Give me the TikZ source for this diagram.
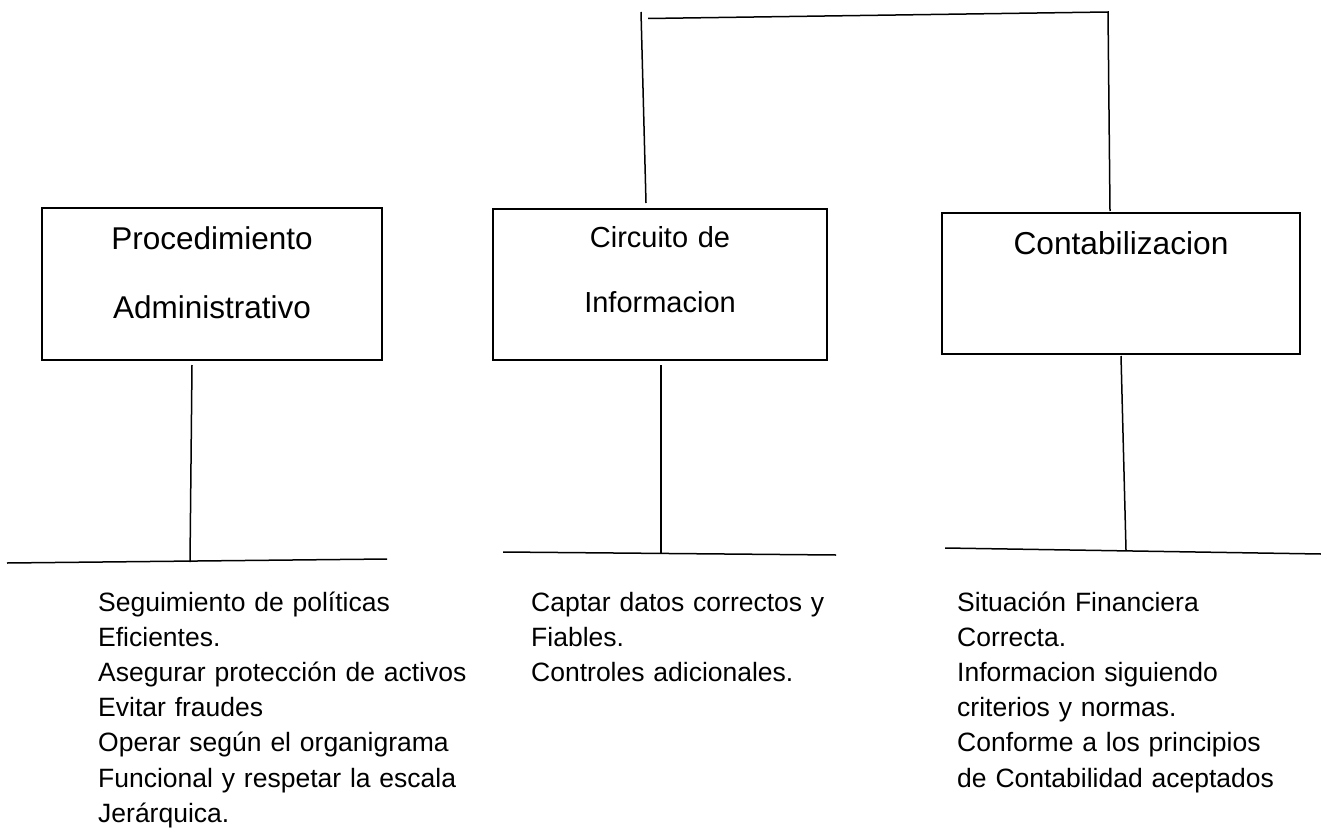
\documentclass[tikz,border=0pt]{standalone}
\usepackage{fontspec}
\setmainfont{Liberation Sans}
\begin{document}
\begin{tikzpicture}[x=1pt,y=-1pt,
  box/.style={draw, line width=1.9pt, rectangle, inner sep=0pt},
  conn/.style={line width=1.5pt},
  lbl/.style={inner sep=0pt, anchor=base, align=center, text width=330pt},
  body/.style={inner sep=0pt, anchor=base west, align=left, text width=400pt, font=\fontsize{26.5}{35.2}\selectfont}]
\useasboundingbox[fill=white] (0,0) rectangle (1321,829);

% boxes
\node[box, minimum width=340pt, minimum height=152pt] (b1) at (212,284) {};
\node[box, minimum width=334pt, minimum height=151pt] (b2) at (660,284.5) {};
\node[box, minimum width=358pt, minimum height=141pt] (b3) at (1121,283.5) {};

% box labels
\node[lbl, font=\fontsize{31.5}{69}\selectfont] (t1) at (212,249) {Procedimiento\\Administrativo};
\node[lbl, font=\fontsize{29}{65}\selectfont] (t2) at (660,247) {Circuito de\\Informacion};
\node[lbl, font=\fontsize{31.7}{40}\selectfont] (t3) at (1121,254) {Contabilizacion};

% top connector
\coordinate (tl1) at (641,12);
\coordinate (tl2) at (646,203);
\coordinate (th1) at (648,18.5);
\coordinate (th2) at (1108,12);
\coordinate (tr) at (1110,211);
\draw[conn] (tl1) -- (tl2);
\draw[conn] (th1) -- (th2) -- (tr);

% stems and bars
\coordinate (v1a) at (192,365);
\coordinate (v1b) at (190,562);
\coordinate (h1l) at (7,563);
\coordinate (h1r) at (387,559);
\draw[conn] (v1a) -- (v1b);
\draw[conn] (h1l) -- (h1r);

\coordinate (v2a) at (661,365);
\coordinate (v2b) at (661,553);
\coordinate (h2l) at (503,552);
\coordinate (h2r) at (836,555);
\draw[conn] (v2a) -- (v2b);
\draw[conn] (h2l) -- (h2r);

\coordinate (v3a) at (1121,356);
\coordinate (v3b) at (1126,550);
\coordinate (h3l) at (945,548);
\coordinate (h3r) at (1321,554);
\draw[conn] (v3a) -- (v3b);
\draw[conn] (h3l) -- (h3r);

% texts
\node[body] (s1) at (98,611) {Seguimiento de políticas\\Eficientes.\\Asegurar protección de activos\\Evitar fraudes\\Operar según el organigrama\\Funcional y respetar la escala\\Jerárquica.};
\node[body] (s2) at (531,611) {Captar datos correctos y\\Fiables.\\Controles adicionales.};
\node[body, text width=360pt] (s3) at (957,611) {Situación Financiera\\Correcta.\\Informacion siguiendo\\criterios y normas.\\Conforme a los principios\\de Contabilidad aceptados};
\end{tikzpicture}
\end{document}
